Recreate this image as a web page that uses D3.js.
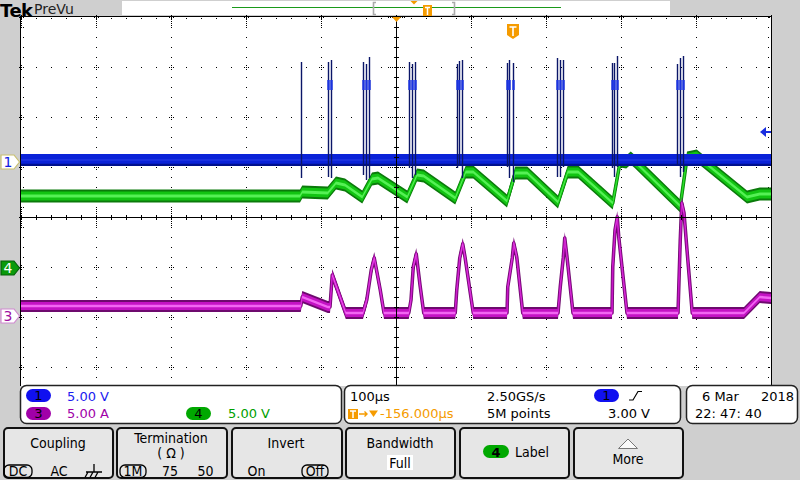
<!DOCTYPE html>
<html><head><meta charset="utf-8">
<script src="https://cdn.jsdelivr.net/npm/d3@7"></script>
<style>
html,body{margin:0;padding:0;background:#cfcfcf;overflow:hidden;}
svg{display:block;}
text{font-family:"DejaVu Sans",sans-serif;}
.btn{font-family:"DejaVu Sans Condensed","DejaVu Sans",sans-serif;font-stretch:condensed;}
</style></head><body>
<svg id="c" width="800" height="480"></svg>
<script>
// ---------------- DATA ----------------
const timeDomain = [-656, 344];          // µs, relative to trigger
const divisionsX = 10, divisionsY = 8;
const ch1Scale = 5, ch3Scale = 5, ch4Scale = 5;          // V/div, A/div, V/div
const ch1Offset = 1.1, ch3Offset = -1.98, ch4Offset = -1.02; // divisions
const ch1TriggerLevel = 3.0;

// Channel 1 (blue) baseline and gate spikes
const ch1BaseTime = [-656, 344];
const ch1BaseVolts = [0.2, 0.2];
const ch1SpikeTimes   = [-283, -247, -243, -200, -196, -192, -139, -135, -131, -75, -72, -68, -8, -5, 0, 59, 63, 67, 132, 135, 139, 219, 223, 227];
const ch1SpikeTops    = [10.0, 10.0, 10.2, 10.0, 9.8, 10.5, 10.0, 9.8, 10.0, 9.8, 10.1, 10.2, 9.9, 10.2, 9.9, 10.4, 10.2, 10.2, 9.9, 9.9, 10.6, 9.8, 10.4, 10.6];
const ch1SpikeBottoms = [-1.6, -1.5, -1.6, -1.3, -1.8, -1.6, -0.6, -1.6, -1.3, -0.6, -0.3, -1.6, -0.5, -1.6, -2.0, -1.5, -1.5, -0.5, -0.6, -1.5, -0.5, -0.3, -1.5, -1.0];
const ch1Plateau = [7.2, 8.2];

// Channel 4 (green) voltage
const ch4Time  = [-656, -284, -281, -247, -236, -224, -201, -188, -180, -141, -128, -119, -77, -63, -53, -8, 3, 19, 60, 73, 87, 133, 143, 151, 157, 163, 223, 232, 245, 312, 329, 344];
const ch4Volts = [7.2, 7.2, 7.6, 7.5, 8.5, 8.3, 7.1, 8.9, 9.0, 7.1, 9.3, 9.2, 7.0, 9.6, 9.6, 6.7, 9.5, 9.5, 6.6, 9.6, 9.6, 6.5, 10.7, 10.6, 11.0, 10.6, 6.2, 11.0, 11.2, 7.1, 7.4, 7.4];

// Channel 3 (magenta) current
const ch3Time = [-656, -283, -281, -247, -244, -241, -223, -200, -195, -189, -185, -177, -172, -139, -136, -133, -129, -124, -119, -77, -75, -71, -67, -64, -53, -8, -7, -1, 1, 5, 13, 60, 63, 67, 69, 72, 80, 132, 133, 136, 139, 141, 152, 220, 223, 225, 228, 232, 239, 308, 329, 344];
const ch3Amps = [1.0, 1.0, 1.9, 0.9, 0.9, 4.1, 0.3, 0.3, 1.6, 4.6, 5.8, 2.6, 0.3, 0.3, 1.6, 4.9, 6.2, 3.1, 0.3, 0.3, 2.6, 5.8, 7.2, 5.9, 0.3, 0.3, 2.9, 5.8, 7.3, 5.9, 0.3, 0.3, 2.9, 5.8, 7.8, 5.9, 0.3, 0.3, 4.9, 8.6, 9.9, 7.9, 0.3, 0.3, 7.6, 11.3, 10.3, 6.6, 0.3, 0.3, 1.9, 1.8];

// Status / menu labels
const ch1Label = "5.00 V", ch3Label = "5.00 A", ch4Label = "5.00 V";
const timebaseLabel = "100µs", delayLabel = "-156.000µs";
const sampleRateLabel = "2.50GS/s", recordLabel = "5M points", trigLevelLabel = "3.00 V";
const dateLabels = ["6 Mar", "2018", "22: 47: 40"];

// ---------------- DRAW ----------------
const svg = d3.select('#c');
const L = 21, R = 771, T = 17, B = 417;
const x = d3.scaleLinear().domain(timeDomain).range([L, R]);
const yDiv = d3.scaleLinear().domain([-divisionsY/2, divisionsY/2]).range([B, T]);
const yCh = (off, sc) => v => yDiv(off + v / sc);
const y1 = yCh(ch1Offset, ch1Scale), y3 = yCh(ch3Offset, ch3Scale), y4 = yCh(ch4Offset, ch4Scale);
const tStep = (timeDomain[1]-timeDomain[0]) / divisionsX;

svg.append('rect').attr('width',800).attr('height',480).attr('fill','#cfcfcf');
svg.append('rect').attr('x',L).attr('y',16).attr('width',R-L).attr('height',372).attr('fill','#fff');

svg.append('defs').append('clipPath').attr('id','clip').append('rect')
  .attr('x',L).attr('y',T).attr('width',R-L).attr('height',370);

// graticule dots
const grid = svg.append('g');
const dots = [];
for (let i = 1; i < divisionsX; i++) {
  if (i === divisionsX/2) continue;
  for (let k = 0; k <= 40; k++) dots.push([x(timeDomain[0]+i*tStep), yDiv(-4 + k*0.2)]);
}
for (let j = -3; j <= 3; j++) {
  if (j === 0) continue;
  for (let m = 0; m <= 50; m++) dots.push([x(timeDomain[0]+m*tStep/5), yDiv(j)]);
}
for (let m = 0; m <= 50; m++) dots.push([x(timeDomain[0]+m*tStep/5), 18]);
for (let k = 0; k <= 40; k++) { dots.push([23, yDiv(-4+k*0.2)]); dots.push([R-3, yDiv(-4+k*0.2)]); }
for (let i = 0; i <= divisionsX; i++) for (let j = -4; j <= 4; j++) {
  const px = x(timeDomain[0]+i*tStep), py = yDiv(j);
  [-2,2].forEach(d => { dots.push([px+d, py]); dots.push([px, py+d]); });
  if (j === 0 || j === 4) for (let d = -10; d <= 10; d += 2) dots.push([px, py + (j===4? Math.abs(d):d)]);
  if (i === divisionsX/2) for (let d = -8; d <= 8; d += 2) dots.push([px+d, py]);
}
grid.selectAll('rect.d').data(dots).join('rect').attr('class','d')
  .attr('x',d=>Math.round(d[0])).attr('y',d=>Math.round(d[1]))
  .attr('width',1).attr('height',1).attr('fill','#000');

// traces
const tg = svg.append('g').attr('clip-path','url(#clip)');
function drawTrace(times, vals, yf, colors, hs) {
  const pts = times.map((t,i)=>[x(t), yf(vals[i])]);
  hs.forEach((h, n) => {
    const area = d3.area().x(d=>d[0]).y0(d=>d[1]+h[0]).y1(d=>d[1]-h[1]);
    tg.append('path').attr('d', area(pts)).attr('fill', colors[n]);
    if (h[2]) tg.append('path').attr('d', d3.line()(pts)).attr('fill','none')
      .attr('stroke', colors[n]).attr('stroke-width', h[2]).attr('stroke-linejoin','round');
  });
}
drawTrace(ch4Time, ch4Volts, y4, ['#0b7a0b','#12c412','#55f055'], [[6.5,6.5,3.5],[4.5,4.5,2],[1.5,1.5,0]]);
drawTrace(ch3Time, ch3Amps, y3, ['#6e0a6e','#c412c4','#f266f2'], [[6,6,3.5],[4,4,1.8],[1.3,1.3,0]]);
drawTrace(ch1BaseTime, ch1BaseVolts, y1, ['#00108e','#0a22d8','#1a30e0'], [[6,6,0],[3.8,6,0],[1,1,0]]);

// ch1 spikes
tg.selectAll('line.sp').data(ch1SpikeTimes).join('line').attr('class','sp')
  .attr('x1',(d)=>Math.round(x(d))+0.5).attr('x2',(d)=>Math.round(x(d))+0.5)
  .attr('y1',(d,i)=>y1(ch1SpikeTops[i])).attr('y2',(d,i)=>y1(ch1SpikeBottoms[i]))
  .attr('stroke','#0a1668').attr('stroke-width',1.4);
tg.selectAll('line.pl').data(ch1SpikeTimes.slice(1)).join('line').attr('class','pl')
  .attr('x1',(d)=>Math.round(x(d))+0.5).attr('x2',(d)=>Math.round(x(d))+0.5)
  .attr('y1',y1(ch1Plateau[1])).attr('y2',y1(ch1Plateau[0]))
  .attr('stroke','#1a33e0').attr('stroke-width',2.4);

// center crosshair
const cx = Math.round(x(timeDomain[0]+tStep*5))+0.5, cy = Math.round(yDiv(0))+0.5;
svg.append('line').attr('x1',cx).attr('x2',cx).attr('y1',T).attr('y2',388).attr('stroke','#000');
svg.append('line').attr('x1',L).attr('x2',R).attr('y1',cy).attr('y2',cy).attr('stroke','#000');
for (let m = 0; m <= 50; m++) { const px = Math.round(x(timeDomain[0]+m*tStep/5))+0.5;
  svg.append('line').attr('x1',px).attr('x2',px).attr('y1',cy-2.5).attr('y2',cy+2.5).attr('stroke','#000'); }
for (let k = 0; k <= 40; k++) { const py = Math.round(yDiv(-4+k*0.2))+0.5;
  svg.append('line').attr('x1',cx-2.5).attr('x2',cx+2.5).attr('y1',py).attr('y2',py).attr('stroke','#000'); }

// borders
svg.append('line').attr('x1',20.5).attr('x2',20.5).attr('y1',16).attr('y2',392).attr('stroke','#000');
svg.append('line').attr('x1',R+0.5).attr('x2',R+0.5).attr('y1',16).attr('y2',392).attr('stroke','#000');
svg.append('line').attr('x1',20).attr('x2',R+1).attr('y1',16.5).attr('y2',16.5).attr('stroke','#000');

// header
svg.append('text').attr('x',0).attr('y',16.5).attr('font-family','"Liberation Serif",serif').attr('font-weight','bold')
  .attr('font-size',18).attr('letter-spacing',-0.5).attr('fill','#000').text('Tek');
svg.append('text').attr('x',34).attr('y',14).attr('font-size',14).attr('fill','#222').text('PreVu');
svg.append('rect').attr('x',122).attr('y',1).attr('width',548).attr('height',14).attr('fill','#fff');
svg.append('line').attr('x1',232).attr('x2',561).attr('y1',7.5).attr('y2',7.5).attr('stroke','#1a9a1a').attr('stroke-width',1.2);
svg.append('path').attr('d','M376,2.5 H373.5 V14.5 H376 M452,2.5 H454.5 V14.5 H452').attr('fill','none').attr('stroke','#aaa').attr('stroke-width',1.6);
const orange = '#f59b00';
svg.append('path').attr('d','M410.5,1 L417.5,1 L414,4.5 Z').attr('fill',orange);
svg.append('rect').attr('x',423).attr('y',5).attr('width',9).attr('height',11).attr('fill',orange);
svg.append('path').attr('d','M425,7.5 H430 M427.5,7.5 V15').attr('stroke','#fff').attr('stroke-width',1.5);

// expansion point triangle, trigger marker
svg.append('path').attr('d',`M${cx-4.5},17 L${cx+4.5},17 L${cx},22 Z`).attr('fill',orange);
const tx = x(0);
svg.append('path').attr('d',`M${tx-6},24 H${tx+6} V35 L${tx},39 L${tx-6},35 Z`).attr('fill',orange);
svg.append('path').attr('d',`M${tx-3.5},27 H${tx+3.5} M${tx},27 V36`).attr('stroke','#fff').attr('stroke-width',1.6);

// trigger level arrow (ch1)
const tly = y1(ch1TriggerLevel);
svg.append('path').attr('d',`M760,${tly} L766,${tly-5} L766,${tly+5} Z`).attr('fill','#1a2ee0');
svg.append('line').attr('x1',765).attr('x2',771).attr('y1',tly).attr('y2',tly).attr('stroke','#1a2ee0').attr('stroke-width',2);

// channel ground markers
function marker(yc, fill, stroke, tcol, label) {
  svg.append('path').attr('d',`M1,${yc-7} H14 L19.5,${yc} L14,${yc+7} H1 Z`).attr('fill',fill).attr('stroke',stroke).attr('stroke-width',1.2);
  svg.append('text').attr('x',8).attr('y',yc+5).attr('text-anchor','middle').attr('font-size',14).attr('fill',tcol).text(label);
}
marker(y1(0), '#fff', '#c9c070', '#1020e0', '1');
marker(y4(0), '#0a9a0a', '#06600a', '#fff', '4');
marker(y3(0), '#fff', '#d08ad0', '#a010a0', '3');

// status boxes
svg.append('rect').attr('x',0).attr('y',386).attr('width',800).attr('height',42).attr('fill','#cfcfcf');
svg.append('rect').attr('x',R+1).attr('y',16).attr('width',29).attr('height',372).attr('fill','#cfcfcf');
function box(x0, y0, w, h) { svg.append('rect').attr('x',x0).attr('y',y0).attr('width',w).attr('height',h).attr('rx',6)
  .attr('fill','#fff').attr('stroke','#222').attr('stroke-width',1.5); }
box(20.5, 385.5, 321, 38); box(344.5, 385.5, 336, 38); box(686.5, 385.5, 111, 38);
function pill(x0, y0, col, lab, tcol) {
  svg.append('rect').attr('x',x0).attr('y',y0).attr('width',25).attr('height',13).attr('rx',6.5).attr('fill',col);
  svg.append('text').attr('x',x0+12.5).attr('y',y0+11).attr('text-anchor','middle').attr('font-size',13).attr('fill',tcol||'#000').text(lab);
}
pill(26, 389, '#1010f0', '1'); pill(26, 407, '#a000a8', '3'); pill(186, 407, '#00a800', '4');
const st = (xx, yy, s, col) => svg.append('text').attr('x',xx).attr('y',yy).attr('font-size',13).attr('fill',col||'#000').text(s);
st(67, 401, ch1Label, '#1a1af0'); st(67, 418, ch3Label, '#a000a8'); st(228, 418, ch4Label, '#00a000');
st(350, 401, timebaseLabel);
svg.append('rect').attr('x',348).attr('y',409).attr('width',10).attr('height',10).attr('fill',orange);
svg.append('path').attr('d','M350,411 H356 M353,411 V418').attr('stroke','#fff').attr('stroke-width',1.5);
svg.append('path').attr('d','M359,414 H367 M364.5,411.5 L367,414 L364.5,416.5').attr('stroke',orange).attr('stroke-width',1.4).attr('fill','none');
svg.append('path').attr('d','M369,410.5 H378 L373.5,417 Z').attr('fill',orange);
st(380, 418, delayLabel, orange);
st(487, 401, sampleRateLabel); st(487, 418, recordLabel);
pill(594, 389, '#1010f0', '1');
svg.append('path').attr('d','M629,400 H633 L638,391.5 H642').attr('fill','none').attr('stroke','#000').attr('stroke-width',1.2);
st(608, 418, trigLevelLabel);
st(702, 401, dateLabels[0]); st(761, 401, dateLabels[1]); st(695, 418, dateLabels[2]);

// bottom menu buttons
const buttons = [[3,113],[116,227],[231,342],[345,455],[459,569],[573,683]];
buttons.forEach(([a,b]) => svg.append('rect').attr('x',a+1).attr('y',428).attr('width',b-a-1).attr('height',50).attr('rx',4)
  .attr('fill','#e6e6e6').attr('stroke','#111').attr('stroke-width',2));
const bt = (xx, yy, s, anchor) => svg.append('text').attr('class','btn').attr('x',xx).attr('y',yy).attr('font-size',14)
  .attr('text-anchor',anchor||'middle').attr('fill','#000').text(s);
const oval = (x0, w) => svg.append('rect').attr('x',x0).attr('y',465).attr('width',w).attr('height',12.5).attr('rx',5)
  .attr('fill','none').attr('stroke','#000').attr('stroke-width',1.3);
bt(58, 448, 'Coupling'); oval(4, 28); bt(18, 476, 'DC'); bt(59, 476, 'AC');
svg.append('path').attr('d','M94,464 V472 M86,472 H102 M88,472 L85,477.5 M93,472 L90,477.5 M98,472 L95,477.5').attr('stroke','#000').attr('stroke-width',1.3).attr('fill','none');
bt(171, 443, 'Termination'); bt(171, 458, '( Ω )'); oval(120, 26); bt(133, 476, '1M'); bt(170, 476, '75'); bt(205.5, 476, '50');
bt(286, 448, 'Invert'); bt(256.5, 476, 'On'); oval(302, 26); bt(315, 476, 'Off');
bt(400, 448, 'Bandwidth');
svg.append('rect').attr('x',387).attr('y',455).attr('width',26).attr('height',15).attr('fill','#fff');
bt(400, 468, 'Full');
svg.append('rect').attr('x',483).attr('y',445).attr('width',26).attr('height',13).attr('rx',6.5).attr('fill','#00a800');
svg.append('text').attr('x',496).attr('y',456.5).attr('text-anchor','middle').attr('font-size',13).attr('font-weight','bold').attr('fill','#000').text('4');
bt(515, 457, 'Label', 'start');
svg.append('path').attr('d','M628,439 L618.5,448.5 H637.5 Z').attr('fill','#fafafa').attr('stroke','#777').attr('stroke-width',1);
bt(628, 464, 'More');
</script>
</body></html>
